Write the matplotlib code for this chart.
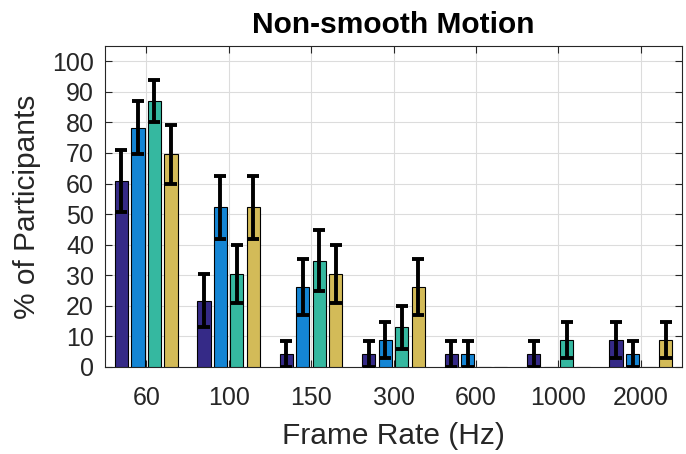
import numpy as np
import matplotlib.pyplot as plt

frame_rates = ['60', '100', '150', '300', '600', '1000', '2000']

# % of participants, one list per condition (4 series)
s1 = [60.9, 21.7, 4.3, 4.3, 4.3, 4.3, 8.7]
s2 = [78.3, 52.2, 26.1, 8.7, 4.3, 0.0, 4.3]
s3 = [87.0, 30.4, 34.8, 13.0, 0.0, 8.7, 0.0]
s4 = [69.6, 52.2, 30.4, 26.1, 0.0, 0.0, 8.7]

# error bar half-lengths
e1 = [10.2, 8.6, 4.2, 4.2, 4.2, 4.2, 5.9]
e2 = [8.6, 10.4, 9.2, 5.9, 4.2, 0.0, 4.2]
e3 = [7.0, 9.6, 9.9, 7.0, 0.0, 5.9, 0.0]
e4 = [9.6, 10.4, 9.6, 9.2, 0.0, 0.0, 5.9]

colors = ['#352A87', '#1485D4', '#35B8A0', '#D3BB58']

plt.rcParams['font.family'] = ['Liberation Sans', 'DejaVu Sans']

fig = plt.figure(figsize=(6.86, 4.54), dpi=100)
ax = fig.add_axes([105/686, 1 - 367/454, 577/686, (367-46)/454])

x = np.arange(1, len(frame_rates) + 1)
w = 0.2
for k, (vals, errs) in enumerate(zip([s1, s2, s3, s4], [e1, e2, e3, e4])):
    pos = x + (k - 1.5) * w
    ax.bar(pos, vals, width=0.16, color=colors[k], edgecolor='black', linewidth=0.8, zorder=3)
    err = np.array(errs)
    ok = err > 0
    ax.errorbar(pos[ok], np.array(vals)[ok], yerr=err[ok], fmt='none', ecolor='black',
                elinewidth=2.8, capsize=4.5, capthick=2.8, zorder=4)

ax.set_xlim(0.5, 7.5)
ax.set_ylim(0, 105)
ax.set_xticks(x)
ax.set_xticklabels(frame_rates)
ax.set_yticks(np.arange(0, 101, 10))
ax.grid(True, color='#dcdcdc', linewidth=0.8, zorder=0)
ax.set_axisbelow(True)
ax.tick_params(direction='in', top=True, right=True, labelsize=18, colors='#262626', length=5, pad=8)
ax.tick_params(axis='x', pad=14)
for sp in ax.spines.values():
    sp.set_color('#262626')
    sp.set_linewidth(0.8)

ax.set_title('Non-smooth Motion', fontsize=21.5, fontweight='bold', pad=9)
ax.set_xlabel('Frame Rate (Hz)', fontsize=21.5, color='#262626', labelpad=8)
ax.set_ylabel('% of Participants', fontsize=21.5, color='#262626', labelpad=8)

fig.savefig('out.png', dpi=100)
